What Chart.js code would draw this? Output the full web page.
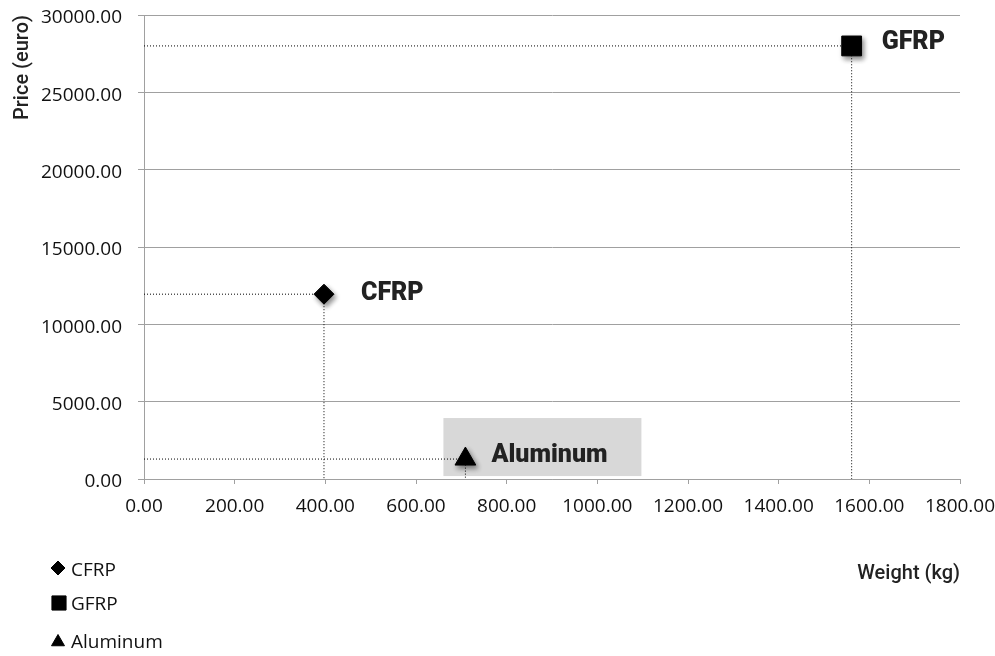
<!DOCTYPE html>
<html>
<head>
<meta charset="utf-8">
<script src="https://cdn.jsdelivr.net/npm/chart.js@4/dist/chart.umd.min.js"></script>
<style>
  html, body { margin: 0; padding: 0; background: #ffffff; }
  #wrap { width: 995px; height: 656px; position: relative; }
</style>
</head>
<body>
<div id="wrap"><canvas id="c" width="995" height="656"></canvas></div>
<script>
// Material options: weight (kg) against price (euro)
const materials = ['CFRP', 'GFRP', 'Aluminum'];
const weightKg = [397, 1561, 709];
const priceEuro = [11950, 28000, 1290];
const markerStyles = ['rectRot', 'rect', 'triangle'];
const markerRadii = [10, 14, 12];

const xTicksMax = 1800, xStep = 200;
const yTicksMax = 30000, yStep = 5000;

const titleFont = 'Roboto, "DejaVu Sans Condensed", sans-serif';
const tickFont = '"Open Sans", "Noto Sans", sans-serif';

// scatter markers, one dataset per material
const markerSets = materials.map((name, i) => ({
  type: 'scatter',
  label: name,
  data: [{ x: weightKg[i], y: priceEuro[i] }],
  pointStyle: markerStyles[i],
  pointRadius: markerRadii[i],
  pointHoverRadius: markerRadii[i],
  backgroundColor: '#000000',
  borderColor: '#000000',
  borderWidth: 1,
  order: 1,
  isMarker: true
}));

// dotted drop lines from each point to both axes
const guideSets = materials.map((name, i) => ({
  type: 'line',
  label: name + ' guide',
  data: [{ x: 0, y: priceEuro[i] }, { x: weightKg[i], y: priceEuro[i] }, { x: weightKg[i], y: 0 }],
  borderColor: '#000000',
  borderWidth: 1,
  borderDash: [1, 2],
  pointRadius: 0,
  fill: false,
  tension: 0,
  order: 2
}));

// marker shadows
const shadowPlugin = {
  id: 'markerShadow',
  beforeDatasetDraw(chart, args) {
    const ds = chart.data.datasets[args.index];
    if (ds.isMarker) {
      const ctx = chart.ctx;
      ctx.save();
      ctx.shadowColor = 'rgba(0,0,0,0.45)';
      ctx.shadowBlur = 5;
      ctx.shadowOffsetX = 2;
      ctx.shadowOffsetY = 3;
    }
  },
  afterDatasetDraw(chart, args) {
    const ds = chart.data.datasets[args.index];
    if (ds.isMarker) chart.ctx.restore();
  }
};

// bold name tags beside each point
const tagPlugin = {
  id: 'nameTags',
  beforeDatasetsDraw(chart) {
    // grey box behind the Aluminum tag
    const ctx = chart.ctx;
    const ds = chart.data.datasets.findIndex(d => d.isMarker && d.label === 'Aluminum');
    const el = chart.getDatasetMeta(ds).data[0];
    if (!el) return;
    ctx.save();
    ctx.fillStyle = '#d8d8d8';
    ctx.fillRect(el.x - 22, el.y - 41, 198, 58);
    ctx.restore();
  },
  afterDatasetsDraw(chart) {
    const ctx = chart.ctx;
    const place = { 'CFRP': [37, 0], 'GFRP': [30, -3], 'Aluminum': [26, -3] };
    ctx.save();
    ctx.font = '900 25px ' + titleFont;
    ctx.fillStyle = '#222222';
    ctx.textBaseline = 'middle';
    ctx.textAlign = 'left';
    chart.data.datasets.forEach((d, i) => {
      if (!d.isMarker) return;
      const el = chart.getDatasetMeta(i).data[0];
      const off = place[d.label];
      ctx.fillText(d.label, el.x + off[0], el.y + off[1]);
    });
    ctx.restore();
  }
};

// stacked legend under the plot, on the left
const legendPlugin = {
  id: 'stackedLegend',
  afterDraw(chart) {
    const ctx = chart.ctx;
    const rows = [
      { mx: 58, my: 568, r: 7, base: 575.5 },
      { mx: 59, my: 603, r: 10, base: 609.5 },
      { mx: 58, my: 642, r: 7.5, base: 647.5 }
    ];
    ctx.save();
    chart.data.datasets.forEach((d) => {
      if (!d.isMarker) return;
      const row = rows[materials.indexOf(d.label)];
      ctx.fillStyle = '#000000';
      ctx.strokeStyle = '#000000';
      ctx.lineWidth = 1;
      Chart.helpers.drawPoint(ctx, { pointStyle: d.pointStyle, radius: row.r, rotation: 0, borderWidth: 1 }, row.mx, row.my);
      ctx.font = '19px ' + tickFont;
      ctx.fillStyle = '#111111';
      ctx.textBaseline = 'alphabetic';
      ctx.textAlign = 'left';
      ctx.fillText(d.label, 71, row.base);
    });
    ctx.restore();
  }
};

new Chart(document.getElementById('c'), {
  type: 'scatter',
  data: { datasets: [...markerSets, ...guideSets] },
  options: {
    responsive: false,
    animation: false,
    events: [],
    layout: { padding: { top: 14, right: 0, bottom: 66, left: 0 } },
    plugins: {
      legend: { display: false },
      tooltip: { enabled: false }
    },
    scales: {
      x: {
        type: 'linear',
        min: 0,
        max: xTicksMax,
        afterFit(scale) {
          scale.height = 111;
          scale.paddingLeft = 0;
          scale.paddingRight = 35;
        },
        ticks: {
          stepSize: xStep,
          padding: 11,
          color: '#111111',
          font: { family: tickFont, size: 19 },
          callback: v => Number(v).toFixed(2)
        },
        grid: { drawOnChartArea: false, drawTicks: true, tickLength: 5, color: '#a0a0a0', lineWidth: 1 },
        border: { display: true, color: '#a0a0a0', width: 1 },
        title: {
          display: true,
          text: 'Weight (kg)',
          align: 'end',
          color: '#222222',
          font: { family: titleFont, size: 20, weight: '500' },
          padding: { top: 0, bottom: 4 }
        }
      },
      y: {
        type: 'linear',
        min: 0,
        max: yTicksMax,
        afterFit(scale) {
          scale.width = 144;
          scale.paddingTop = 0;
          scale.paddingBottom = 0;
        },
        ticks: {
          stepSize: yStep,
          padding: 16,
          labelOffset: 3,
          color: '#111111',
          font: { family: tickFont, size: 19 },
          callback: v => Number(v).toFixed(2)
        },
        grid: { drawOnChartArea: true, drawTicks: true, tickLength: 6, color: '#a0a0a0', lineWidth: 1 },
        border: { display: true, color: '#a0a0a0', width: 1 },
        title: {
          display: true,
          text: 'Price (euro)',
          align: 'end',
          color: '#222222',
          font: { family: titleFont, size: 20, weight: '500' },
          padding: { top: 11, bottom: 0 }
        }
      }
    }
  },
  plugins: [shadowPlugin, tagPlugin, legendPlugin]
});
</script>
</body>
</html>
